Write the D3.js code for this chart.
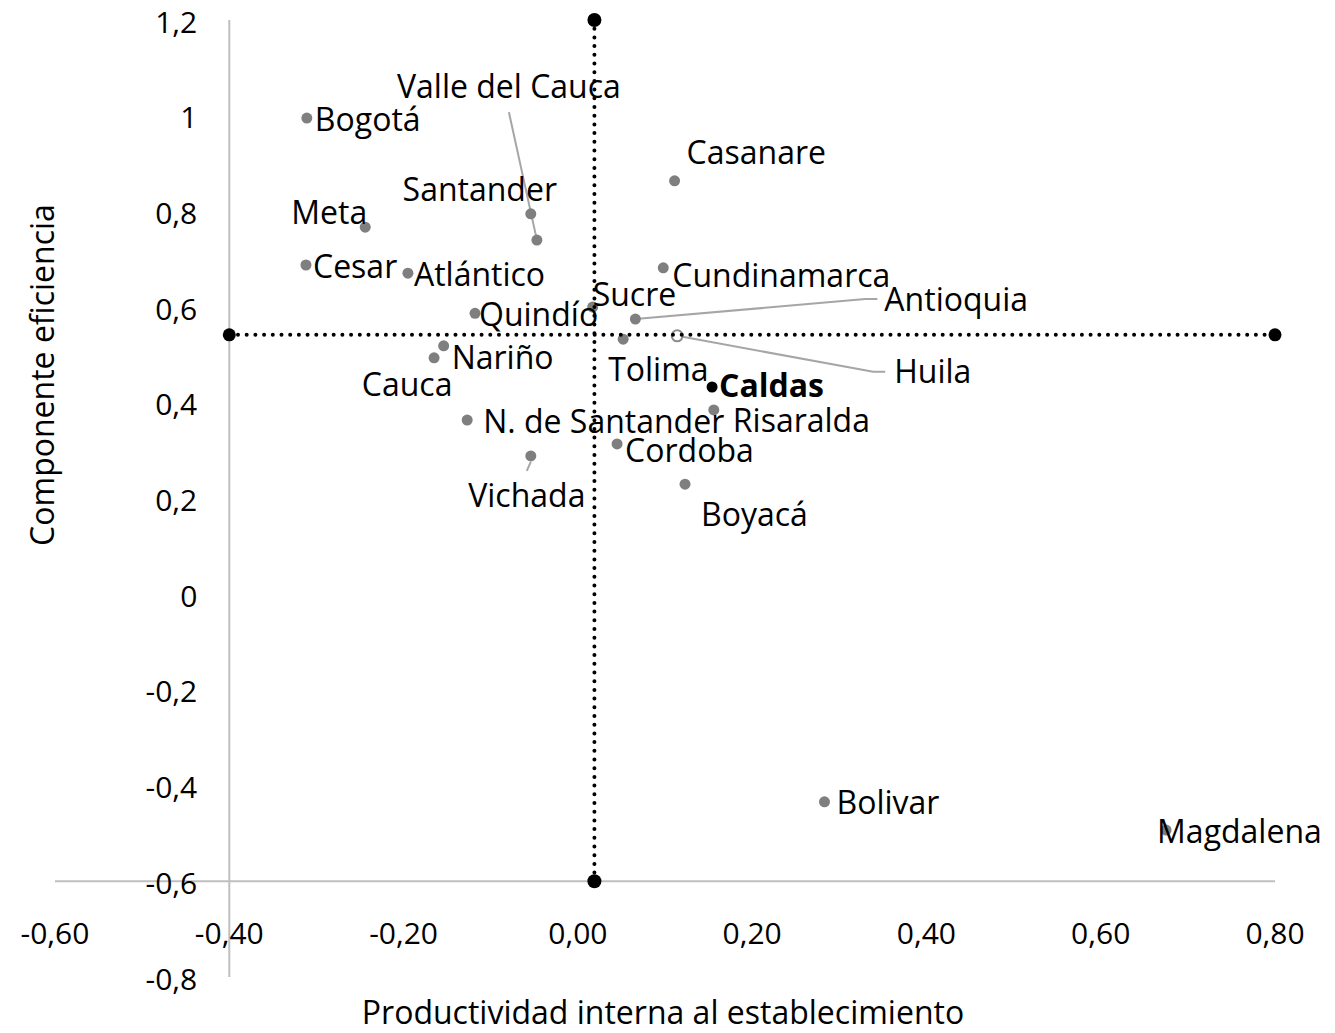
<!DOCTYPE html>
<html>
<head>
<meta charset="utf-8">
<script src="https://cdn.jsdelivr.net/npm/d3@7"></script>
<style>
  body { margin: 0; background: #fff; }
  #chart { width: 1335px; height: 1033px; }
  text { font-family: "Open Sans", "Noto Sans", sans-serif; fill: #000; }
</style>
</head>
<body>
<div id="chart"></div>
<script>
// Departments and their two components
const departamentos = ['Bogotá', 'Meta', 'Cesar', 'Atlántico', 'Quindío', 'Nariño', 'Cauca',
  'N. de Santander', 'Vichada', 'Santander', 'Valle del Cauca', 'Sucre', 'Casanare',
  'Cundinamarca', 'Antioquia', 'Huila', 'Tolima', 'Caldas', 'Risaralda', 'Cordoba',
  'Boyacá', 'Bolivar', 'Magdalena'];
const productividad = [-0.311, -0.244, -0.312, -0.195, -0.118, -0.154, -0.165,
  -0.127, -0.054, -0.054, -0.047, 0.017, 0.111,
  0.098, 0.066, 0.114, 0.052, 0.154, 0.156, 0.045,
  0.123, 0.283, 0.675];
const eficiencia = [0.995, 0.767, 0.688, 0.671, 0.587, 0.519, 0.494,
  0.364, 0.289, 0.795, 0.740, 0.600, 0.864,
  0.682, 0.575, 0.540, 0.533, 0.433, 0.385, 0.314,
  0.230, -0.434, -0.493];

// Reference (average) lines
const refProductividad = 0.019;
const refEficiencia = 0.542;

// Tick values
const xTicks = [-0.6, -0.4, -0.2, 0, 0.2, 0.4, 0.6, 0.8];
const yTicks = [-0.8, -0.6, -0.4, -0.2, 0, 0.2, 0.4, 0.6, 0.8, 1, 1.2];

// Label placement, pixel offsets from the point (manual, like the original)
const labelPlace = {
  'Bogotá': { dx: 8, dy: 2 },
  'Meta': { dx: -74, dy: -14 },
  'Cesar': { dx: 7, dy: 2 },
  'Atlántico': { dx: 6, dy: 2 },
  'Quindío': { dx: 4, dy: 1 },
  'Nariño': { dx: 8, dy: 12 },
  'Cauca': { dx: -27, dy: 27, anchor: 'middle' },
  'N. de Santander': { dx: 16, dy: 2 },
  'Vichada': { dx: -4, dy: 40, anchor: 'middle', leader: [[0, 6], [-4, 15]] },
  'Santander': { dx: -51, dy: -24, anchor: 'middle' },
  'Valle del Cauca': { dx: -28, dy: -153, anchor: 'middle', leader: [[0, 0], [-28, -128]] },
  'Sucre': { dx: 0, dy: -12 },
  'Casanare': { dx: 12, dy: -28 },
  'Cundinamarca': { dx: 9, dy: 8 },
  'Antioquia': { dx: 249, dy: -19, leader: [[0, 0], [230, -20], [242, -20]] },
  'Huila': { dx: 217, dy: 36, leader: [[0, 0], [196, 36], [208, 36]] },
  'Tolima': { dx: -15, dy: 31 },
  'Caldas': { dx: 7, dy: -1, bold: true },
  'Risaralda': { dx: 19, dy: 11 },
  'Cordoba': { dx: 8, dy: 7 },
  'Boyacá': { dx: 16, dy: 31 },
  'Bolivar': { dx: 12, dy: 1 },
  'Magdalena': { dx: -9, dy: 2 },
};

/* Scatter chart with Excel-like crossing axes and quadrant lines
*/
class Scatter {
  constructor(elemName) {
    this.svg = d3.select(elemName).append('svg')
      .attr('width', 1335)
      .attr('height', 1033);
    this.x = d3.scaleLinear().domain([-0.6, 0.8]).range([55, 1275]);
    this.y = d3.scaleLinear().domain([-0.8, 1.2]).range([977, 20]);
    this.fmt = v => d3.format('.2f')(v).replace('.', ',').replace('−', '-');
    this.fmtY = v => String(+v.toFixed(1)).replace('.', ',');
  }

  /* Axes lines and tick labels
  */
  drawAxes() {
    const x = this.x, y = this.y;
    const g = this.svg.append('g').attr('class', 'axes');

    // horizontal axis crosses at -0,6 ; vertical axis at -0,40
    g.append('line')
      .attr('x1', x(-0.6)).attr('x2', x(0.8))
      .attr('y1', y(-0.6)).attr('y2', y(-0.6))
      .attr('stroke', '#bfbfbf').attr('stroke-width', 2);
    g.append('line')
      .attr('x1', x(-0.4)).attr('x2', x(-0.4))
      .attr('y1', y(1.2)).attr('y2', y(-0.8))
      .attr('stroke', '#bfbfbf').attr('stroke-width', 2);

    g.selectAll('.xt').data(xTicks).join('text')
      .attr('class', 'xt')
      .attr('x', d => x(d))
      .attr('y', y(-0.6) + 52)
      .attr('dy', '0.35em')
      .attr('text-anchor', 'middle')
      .style('font-size', '30px')
      .text(d => this.fmt(d));

    g.selectAll('.yt').data(yTicks).join('text')
      .attr('class', 'yt')
      .attr('x', x(-0.4) - 32)
      .attr('y', d => y(d) + 2)
      .attr('dy', '0.35em')
      .attr('text-anchor', 'end')
      .style('font-size', '30px')
      .text(d => this.fmtY(d));

    this.svg.append('text')
      .attr('x', 663).attr('y', 1013)
      .attr('dy', '0.35em')
      .attr('text-anchor', 'middle')
      .style('font-size', '32px')
      .text('Productividad interna al establecimiento');

    this.svg.append('text')
      .attr('transform', 'translate(43, 375) rotate(-90)')
      .attr('dy', '0.35em')
      .attr('text-anchor', 'middle')
      .style('font-size', '32px')
      .text('Componente eficiencia');
  }

  /* Points and leader lines
  */
  drawPoints() {
    const x = this.x, y = this.y;
    const pts = departamentos.map((name, i) => ({
      name, px: x(productividad[i]), py: y(eficiencia[i]), place: labelPlace[name] || { dx: 8, dy: 0 }
    }));

    const line = d3.line();
    this.svg.append('g').selectAll('path').data(pts.filter(d => d.place.leader)).join('path')
      .attr('d', d => line(d.place.leader.map(p => [d.px + p[0], d.py + p[1]])))
      .attr('fill', 'none')
      .attr('stroke', '#a6a6a6')
      .attr('stroke-width', 2);

    this.svg.append('g').selectAll('circle').data(pts).join('circle')
      .attr('cx', d => d.px)
      .attr('cy', d => d.py)
      .attr('r', 5.5)
      .attr('fill', d => d.name === 'Caldas' ? '#000' : (d.name === 'Huila' ? '#fff' : '#7f7f7f'))
      .attr('stroke', d => d.name === 'Huila' ? '#8c8c8c' : 'none')
      .attr('stroke-width', 2);

    this.pts = pts;
  }

  /* Data labels drawn on top of everything
  */
  drawLabels() {
    this.svg.append('g').selectAll('text').data(this.pts).join('text')
      .attr('x', d => d.px + d.place.dx)
      .attr('y', d => d.py + d.place.dy)
      .attr('dy', '0.35em')
      .attr('text-anchor', d => d.place.anchor || 'start')
      .style('font-size', '32px')
      .style('font-weight', d => d.place.bold ? 'bold' : 'normal')
      .text(d => d.name);
  }

  /* Dotted reference lines with round end markers
  */
  drawReference() {
    const x = this.x, y = this.y;
    const g = this.svg.append('g');
    const segs = [
      { x1: x(refProductividad), y1: y(1.2), x2: x(refProductividad), y2: y(-0.6), r: 7 },
      { x1: x(-0.4), y1: y(refEficiencia), x2: x(0.8), y2: y(refEficiencia), r: 6.5 },
    ];
    g.selectAll('line').data(segs).join('line')
      .attr('x1', d => d.x1).attr('y1', d => d.y1)
      .attr('x2', d => d.x2).attr('y2', d => d.y2)
      .attr('stroke', '#000')
      .attr('stroke-width', 4)
      .attr('stroke-linecap', 'round')
      .attr('stroke-dasharray', '0 8.7');
    segs.forEach(s => {
      g.append('circle').attr('cx', s.x1).attr('cy', s.y1).attr('r', s.r);
      g.append('circle').attr('cx', s.x2).attr('cy', s.y2).attr('r', s.r);
    });
  }

  draw() {
    this.drawAxes();
    this.drawPoints();
    this.drawReference();
    this.drawLabels();
  }
}

new Scatter('#chart').draw();
</script>
</body>
</html>
